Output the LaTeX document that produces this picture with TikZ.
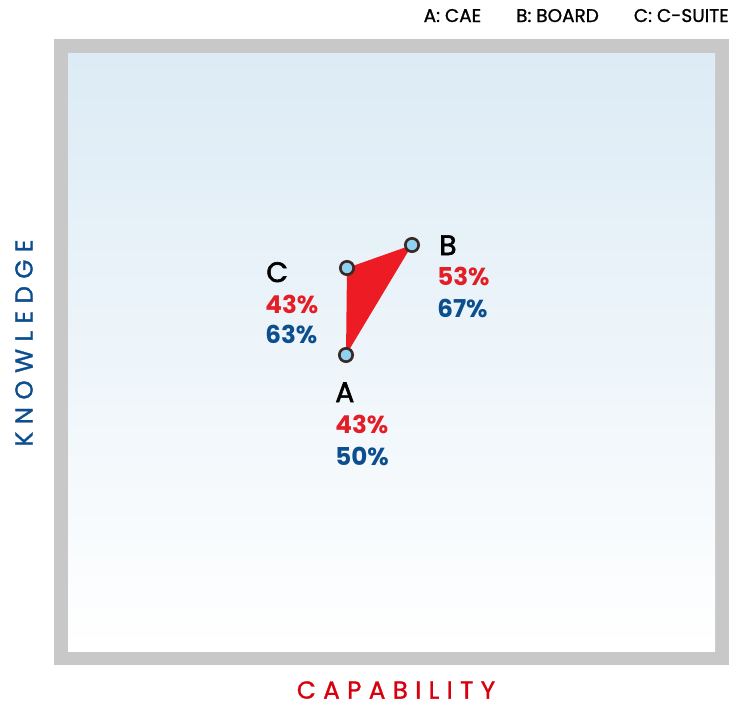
\documentclass[tikz,border=0pt]{standalone}
\usepackage{fontspec}
\setmainfont{Poppins}
\newfontfamily\spaced[LetterSpace=30,FakeBold=1.2]{Poppins}
\newfontfamily\legendfont[FakeBold=1]{Poppins}
\newfontfamily\letterfont[FakeBold=2]{Poppins}
\definecolor{framegrey}{RGB}{200,200,200}
\definecolor{skyblue}{RGB}{220,235,245}
\definecolor{trired}{RGB}{237,28,36}
\definecolor{pctred}{RGB}{228,30,38}
\definecolor{pctblue}{RGB}{12,78,142}
\definecolor{axisred}{RGB}{215,0,15}
\definecolor{dotfill}{RGB}{143,210,239}
\definecolor{dotline}{RGB}{59,41,37}
\tikzset{
  dot/.style={circle, draw=dotline, fill=dotfill, line width=1.5pt, minimum size=7.6pt, inner sep=0pt},
  letter/.style={anchor=base west, inner sep=0pt, font=\fontsize{16}{16}\letterfont\selectfont},
  pcred/.style={anchor=base west, inner sep=0pt, text=pctred, font=\fontsize{14}{14}\selectfont\bfseries},
  pcblue/.style={anchor=base west, inner sep=0pt, text=pctblue, font=\fontsize{14}{14}\selectfont\bfseries},
  axistitle/.style={inner sep=0pt, font=\fontsize{14}{14}\spaced\selectfont}
}
\begin{document}
\begin{tikzpicture}[x=0.02cm, y=-0.02cm]
\useasboundingbox (0,0) rectangle (743,707);
% Draw frame and background
\fill[framegrey] (54,39) rectangle (729,665);
\shade[top color=skyblue, bottom color=white] (68,53) rectangle (715,651);
% Points
\coordinate (a) at (346,355);
\coordinate (b) at (412,245);
\coordinate (c) at (347,268);
% Draw triangle
\fill[trired] (a) -- (b) -- (c) -- cycle;
\node[dot] (dotA) at (a) {};
\node[dot] (dotB) at (b) {};
\node[dot] (dotC) at (c) {};
% Labels of C
\node[letter] (labC) at (266,282) {C};
\node[pcred] (capC) at (265,313) {43\%};
\node[pcblue] (knoC) at (265,343) {63\%};
% Labels of B
\node[letter] (labB) at (439,255) {B};
\node[pcred] (capB) at (437,285) {53\%};
\node[pcblue] (knoB) at (437,317) {67\%};
% Labels of A
\node[letter] (labA) at (335,402) {A};
\node[pcred] (capA) at (335,433) {43\%};
\node[pcblue] (knoA) at (335,465) {50\%};
% Legend
\node[anchor=base east, inner sep=0pt, font=\fontsize{10.5}{10.5}\legendfont\selectfont] (legend) at (729,22)
  {A: CAE\hspace{1.9em}B: BOARD\hspace{1.9em}C: C-SUITE};
% Axis titles
\node[axistitle, text=axisred] (capability) at (396,690) {CAPABILITY};
\node[axistitle, text=pctblue, rotate=90] (knowledge) at (24,343) {KNOWLEDGE};
\end{tikzpicture}
\end{document}
